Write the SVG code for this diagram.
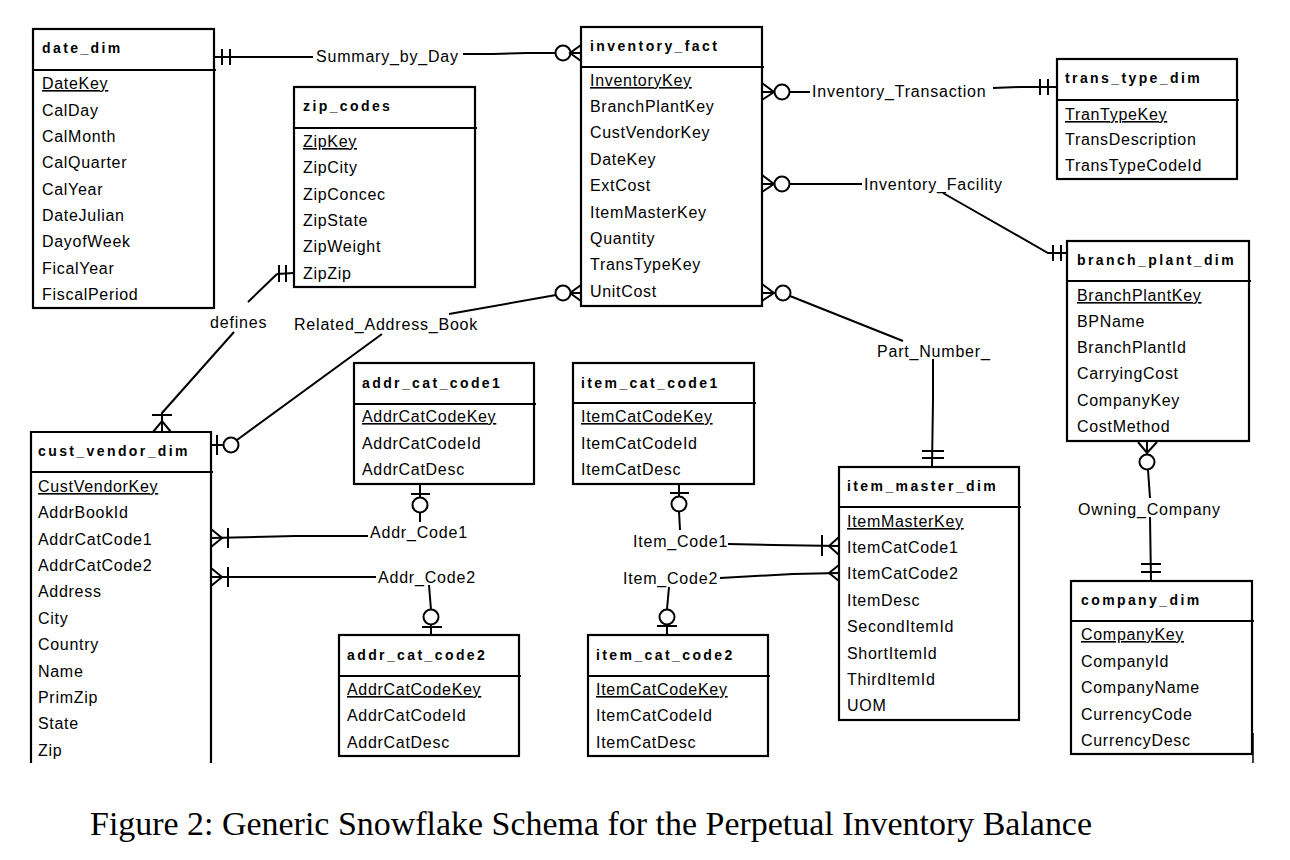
<svg xmlns="http://www.w3.org/2000/svg" width="1290" height="860" viewBox="0 0 1290 860">
<style>
.box{fill:#fff;stroke:#000;stroke-width:2.2}
.div{stroke:#000;stroke-width:2.2}
.title{font-family:"Liberation Sans",Arial,sans-serif;font-weight:bold;font-size:14px;letter-spacing:2.4px;fill:#000}
.row{font-family:"Liberation Sans",Arial,sans-serif;font-size:16px;letter-spacing:0.7px;fill:#000}
.key{text-decoration:underline}
.lbl{font-family:"Liberation Sans",Arial,sans-serif;font-size:16px;letter-spacing:0.8px;fill:#000}
.ln{fill:none;stroke:#000;stroke-width:2}
.cir{fill:#fff;stroke:#000;stroke-width:2}
.cap{font-family:"Liberation Serif","Times New Roman",serif;font-size:33px;fill:#000}
</style>
<rect width="1290" height="860" fill="#fff"/>

<g id="connectors">
  <!-- Summary_by_Day -->
  <g id="c-summary">
    <polyline class="ln" points="214,57 313,57"/>
    <line class="ln" x1="222" y1="49" x2="222" y2="65"/>
    <line class="ln" x1="230" y1="49" x2="230" y2="65"/>
    <text class="lbl" x="316" y="62">Summary_by_Day</text>
    <polyline class="ln" points="463,54 493,54 527,53 556,53"/>
    <circle class="cir" cx="563" cy="53" r="7.5"/>
    <polyline class="ln" points="581,45 570,53 581,61"/>
    <line class="ln" x1="570" y1="53" x2="581" y2="53"/>
  </g>
  <!-- Inventory_Transaction -->
  <g id="c-invtrans">
    <polyline class="ln" points="762,83 774,92 762,100"/>
    <line class="ln" x1="762" y1="92" x2="775" y2="92"/>
    <circle class="cir" cx="782" cy="92" r="7.5"/>
    <line class="ln" x1="789" y1="92" x2="810" y2="92"/>
    <text class="lbl" x="812" y="97">Inventory_Transaction</text>
    <polyline class="ln" points="993,88 1020,87 1057,87"/>
    <line class="ln" x1="1040" y1="79" x2="1040" y2="95"/>
    <line class="ln" x1="1048" y1="79" x2="1048" y2="95"/>
  </g>
  <!-- Inventory_Facility -->
  <g id="c-invfac">
    <polyline class="ln" points="762,175 774,184 762,192"/>
    <line class="ln" x1="762" y1="184" x2="775" y2="184"/>
    <circle class="cir" cx="782" cy="184" r="7.5"/>
    <line class="ln" x1="789" y1="184" x2="862" y2="184"/>
    <text class="lbl" x="864" y="190">Inventory_Facility</text>
    <polyline class="ln" points="943,193 1048,253 1067,253"/>
    <line class="ln" x1="1053" y1="245" x2="1053" y2="261"/>
    <line class="ln" x1="1061" y1="245" x2="1061" y2="261"/>
  </g>
  <!-- Part_Number_ -->
  <g id="c-partnum">
    <polyline class="ln" points="762,284 774,293 762,301"/>
    <line class="ln" x1="762" y1="293" x2="775" y2="293"/>
    <circle class="cir" cx="783" cy="293" r="7.5"/>
    <line class="ln" x1="790" y1="296" x2="903" y2="341"/>
    <text class="lbl" x="877" y="357">Part_Number_</text>
    <polyline class="ln" points="933,359 933,400 932,467"/>
    <line class="ln" x1="922" y1="451" x2="944" y2="451"/>
    <line class="ln" x1="922" y1="458" x2="944" y2="458"/>
  </g>
  <!-- Related_Address_Book -->
  <g id="c-relab">
    <polyline class="ln" points="581,285 570,293 581,301"/>
    <line class="ln" x1="570" y1="293" x2="581" y2="293"/>
    <circle class="cir" cx="563" cy="293" r="7.5"/>
    <line class="ln" x1="556" y1="295" x2="449" y2="314"/>
    <text class="lbl" x="294" y="330">Related_Address_Book</text>
    <line class="ln" x1="382" y1="334" x2="237" y2="440"/>
    <circle class="cir" cx="231" cy="445" r="7.5"/>
    <line class="ln" x1="217" y1="435" x2="217" y2="455"/>
    <line class="ln" x1="211" y1="445" x2="224" y2="445"/>
  </g>
  <!-- defines -->
  <g id="c-defines">
    <line class="ln" x1="294" y1="273" x2="277" y2="274"/>
    <line class="ln" x1="279" y1="265" x2="279" y2="282"/>
    <line class="ln" x1="286" y1="265" x2="286" y2="282"/>
    <line class="ln" x1="277" y1="274" x2="248" y2="302"/>
    <text class="lbl" x="210" y="328">defines</text>
    <polyline class="ln" points="234,332 162,413 162,432"/>
    <line class="ln" x1="152" y1="415" x2="172" y2="415"/>
    <polyline class="ln" points="153,432 162,421 171,432"/>
  </g>
  <!-- Addr_Code1 -->
  <g id="c-addr1">
    <line class="ln" x1="420" y1="484" x2="420" y2="498"/>
    <line class="ln" x1="411" y1="494" x2="430" y2="494"/>
    <circle class="cir" cx="420" cy="505" r="7.5"/>
    <line class="ln" x1="420" y1="512" x2="420" y2="522"/>
    <text class="lbl" x="370" y="538">Addr_Code1</text>
    <polyline class="ln" points="368,536 295,536 211,538"/>
    <line class="ln" x1="228" y1="528" x2="228" y2="548"/>
    <polyline class="ln" points="211,529 222,538 211,547"/>
  </g>
  <!-- Addr_Code2 -->
  <g id="c-addr2">
    <line class="ln" x1="211" y1="577" x2="376" y2="577"/>
    <line class="ln" x1="228" y1="567" x2="228" y2="587"/>
    <polyline class="ln" points="211,568 222,577 211,586"/>
    <text class="lbl" x="378" y="583">Addr_Code2</text>
    <line class="ln" x1="429" y1="585" x2="431" y2="610"/>
    <circle class="cir" cx="431" cy="617" r="7.5"/>
    <line class="ln" x1="422" y1="627" x2="442" y2="627"/>
    <line class="ln" x1="431" y1="624" x2="431" y2="635"/>
  </g>
  <!-- Item_Code1 -->
  <g id="c-item1">
    <line class="ln" x1="679" y1="484" x2="679" y2="497"/>
    <line class="ln" x1="670" y1="493" x2="689" y2="493"/>
    <circle class="cir" cx="679" cy="504" r="7.5"/>
    <line class="ln" x1="679" y1="511" x2="680" y2="530"/>
    <text class="lbl" x="633" y="547">Item_Code1</text>
    <polyline class="ln" points="728,544 773,545 839,546"/>
    <line class="ln" x1="822" y1="535" x2="822" y2="556"/>
    <polyline class="ln" points="839,537 829,546 839,555"/>
  </g>
  <!-- Item_Code2 -->
  <g id="c-item2">
    <polyline class="ln" points="839,565 829,573 839,581"/>
    <polyline class="ln" points="839,573 793,574 720,578"/>
    <text class="lbl" x="623" y="584">Item_Code2</text>
    <line class="ln" x1="669" y1="587" x2="667" y2="609"/>
    <circle class="cir" cx="667" cy="617" r="7.5"/>
    <line class="ln" x1="657" y1="626" x2="677" y2="626"/>
    <line class="ln" x1="667" y1="624" x2="667" y2="635"/>
  </g>
  <!-- Owning_Company -->
  <g id="c-owning">
    <polyline class="ln" points="1138,442 1147,453 1157,442"/>
    <line class="ln" x1="1147" y1="442" x2="1147" y2="454"/>
    <circle class="cir" cx="1147" cy="462" r="7.5"/>
    <line class="ln" x1="1148" y1="470" x2="1150" y2="498"/>
    <text class="lbl" x="1078" y="515">Owning_Company</text>
    <line class="ln" x1="1150" y1="517" x2="1151" y2="581"/>
    <line class="ln" x1="1141" y1="564" x2="1161" y2="564"/>
    <line class="ln" x1="1141" y1="572" x2="1161" y2="572"/>
  </g>
</g>

<g id="date_dim">
  <rect class="box" x="33" y="29" width="181" height="279"/>
  <line class="div" x1="33" y1="70" x2="216" y2="70"/>
  <text class="title" x="42" y="53">date_dim</text>
  <text class="row key" x="42" y="89">DateKey</text>
  <text class="row" x="42" y="116">CalDay</text>
  <text class="row" x="42" y="142">CalMonth</text>
  <text class="row" x="42" y="168">CalQuarter</text>
  <text class="row" x="42" y="195">CalYear</text>
  <text class="row" x="42" y="221">DateJulian</text>
  <text class="row" x="42" y="247">DayofWeek</text>
  <text class="row" x="42" y="274">FicalYear</text>
  <text class="row" x="42" y="300">FiscalPeriod</text>
</g>

<g id="zip_codes">
  <rect class="box" x="294" y="87" width="181" height="200"/>
  <line class="div" x1="294" y1="128" x2="477" y2="128"/>
  <text class="title" x="303" y="111">zip_codes</text>
  <text class="row key" x="303" y="147">ZipKey</text>
  <text class="row" x="303" y="173">ZipCity</text>
  <text class="row" x="303" y="200">ZipConcec</text>
  <text class="row" x="303" y="226">ZipState</text>
  <text class="row" x="303" y="252">ZipWeight</text>
  <text class="row" x="303" y="279">ZipZip</text>
</g>

<g id="inventory_fact">
  <rect class="box" x="581" y="27" width="181" height="279"/>
  <line class="div" x1="581" y1="67" x2="764" y2="67"/>
  <text class="title" x="590" y="51">inventory_fact</text>
  <text class="row key" x="590" y="86">InventoryKey</text>
  <text class="row" x="590" y="112">BranchPlantKey</text>
  <text class="row" x="590" y="138">CustVendorKey</text>
  <text class="row" x="590" y="165">DateKey</text>
  <text class="row" x="590" y="191">ExtCost</text>
  <text class="row" x="590" y="218">ItemMasterKey</text>
  <text class="row" x="590" y="244">Quantity</text>
  <text class="row" x="590" y="270">TransTypeKey</text>
  <text class="row" x="590" y="297">UnitCost</text>
</g>

<g id="trans_type_dim">
  <rect class="box" x="1057" y="59" width="180" height="120"/>
  <line class="div" x1="1057" y1="100" x2="1239" y2="100"/>
  <text class="title" x="1065" y="83">trans_type_dim</text>
  <text class="row key" x="1065" y="120">TranTypeKey</text>
  <text class="row" x="1065" y="145">TransDescription</text>
  <text class="row" x="1065" y="171">TransTypeCodeId</text>
</g>

<g id="branch_plant_dim">
  <rect class="box" x="1067" y="241" width="182" height="200"/>
  <line class="div" x1="1067" y1="281" x2="1251" y2="281"/>
  <text class="title" x="1077" y="265">branch_plant_dim</text>
  <text class="row key" x="1077" y="301">BranchPlantKey</text>
  <text class="row" x="1077" y="327">BPName</text>
  <text class="row" x="1077" y="353">BranchPlantId</text>
  <text class="row" x="1077" y="379">CarryingCost</text>
  <text class="row" x="1077" y="406">CompanyKey</text>
  <text class="row" x="1077" y="432">CostMethod</text>
</g>

<g id="company_dim">
  <rect class="box" x="1071" y="581" width="181" height="173"/>
  <line class="div" x1="1071" y1="621" x2="1254" y2="621"/>
  <line class="div" x1="1253" y1="733" x2="1253" y2="763" style="stroke-width:1.5"/>
  <text class="title" x="1081" y="605">company_dim</text>
  <text class="row key" x="1081" y="640">CompanyKey</text>
  <text class="row" x="1081" y="667">CompanyId</text>
  <text class="row" x="1081" y="693">CompanyName</text>
  <text class="row" x="1081" y="720">CurrencyCode</text>
  <text class="row" x="1081" y="746">CurrencyDesc</text>
</g>

<g id="cust_vendor_dim">
  <polyline points="31,763 31,432 211,432 211,763" style="fill:#fff;stroke:#000;stroke-width:2.2"/>
  <line class="div" x1="31" y1="472" x2="213" y2="472"/>
  <text class="title" x="38" y="456">cust_vendor_dim</text>
  <text class="row key" x="38" y="492">CustVendorKey</text>
  <text class="row" x="38" y="518">AddrBookId</text>
  <text class="row" x="38" y="545">AddrCatCode1</text>
  <text class="row" x="38" y="571">AddrCatCode2</text>
  <text class="row" x="38" y="597">Address</text>
  <text class="row" x="38" y="624">City</text>
  <text class="row" x="38" y="650">Country</text>
  <text class="row" x="38" y="677">Name</text>
  <text class="row" x="38" y="703">PrimZip</text>
  <text class="row" x="38" y="729">State</text>
  <text class="row" x="38" y="756">Zip</text>
</g>

<g id="addr_cat_code1">
  <rect class="box" x="354" y="363" width="180" height="121"/>
  <line class="div" x1="354" y1="404" x2="536" y2="404"/>
  <text class="title" x="362" y="388">addr_cat_code1</text>
  <text class="row key" x="362" y="422">AddrCatCodeKey</text>
  <text class="row" x="362" y="449">AddrCatCodeId</text>
  <text class="row" x="362" y="475">AddrCatDesc</text>
</g>

<g id="addr_cat_code2">
  <rect class="box" x="339" y="635" width="180" height="121"/>
  <line class="div" x1="339" y1="676" x2="521" y2="676"/>
  <text class="title" x="347" y="660">addr_cat_code2</text>
  <text class="row key" x="347" y="695">AddrCatCodeKey</text>
  <text class="row" x="347" y="721">AddrCatCodeId</text>
  <text class="row" x="347" y="748">AddrCatDesc</text>
</g>

<g id="item_cat_code1">
  <rect class="box" x="573" y="363" width="181" height="121"/>
  <line class="div" x1="573" y1="403" x2="756" y2="403"/>
  <text class="title" x="581" y="388">item_cat_code1</text>
  <text class="row key" x="581" y="422">ItemCatCodeKey</text>
  <text class="row" x="581" y="449">ItemCatCodeId</text>
  <text class="row" x="581" y="475">ItemCatDesc</text>
</g>

<g id="item_cat_code2">
  <rect class="box" x="588" y="635" width="180" height="121"/>
  <line class="div" x1="588" y1="676" x2="770" y2="676"/>
  <text class="title" x="596" y="660">item_cat_code2</text>
  <text class="row key" x="596" y="695">ItemCatCodeKey</text>
  <text class="row" x="596" y="721">ItemCatCodeId</text>
  <text class="row" x="596" y="748">ItemCatDesc</text>
</g>

<g id="item_master_dim">
  <rect class="box" x="839" y="467" width="180" height="253"/>
  <line class="div" x1="839" y1="507" x2="1021" y2="507"/>
  <text class="title" x="847" y="491">item_master_dim</text>
  <text class="row key" x="847" y="527">ItemMasterKey</text>
  <text class="row" x="847" y="553">ItemCatCode1</text>
  <text class="row" x="847" y="579">ItemCatCode2</text>
  <text class="row" x="847" y="606">ItemDesc</text>
  <text class="row" x="847" y="632">SecondItemId</text>
  <text class="row" x="847" y="659">ShortItemId</text>
  <text class="row" x="847" y="685">ThirdItemId</text>
  <text class="row" x="847" y="711">UOM</text>
</g>

<text class="cap" x="90" y="835" textLength="1002" lengthAdjust="spacingAndGlyphs">Figure 2: Generic Snowflake Schema for the Perpetual Inventory Balance</text>
</svg>
